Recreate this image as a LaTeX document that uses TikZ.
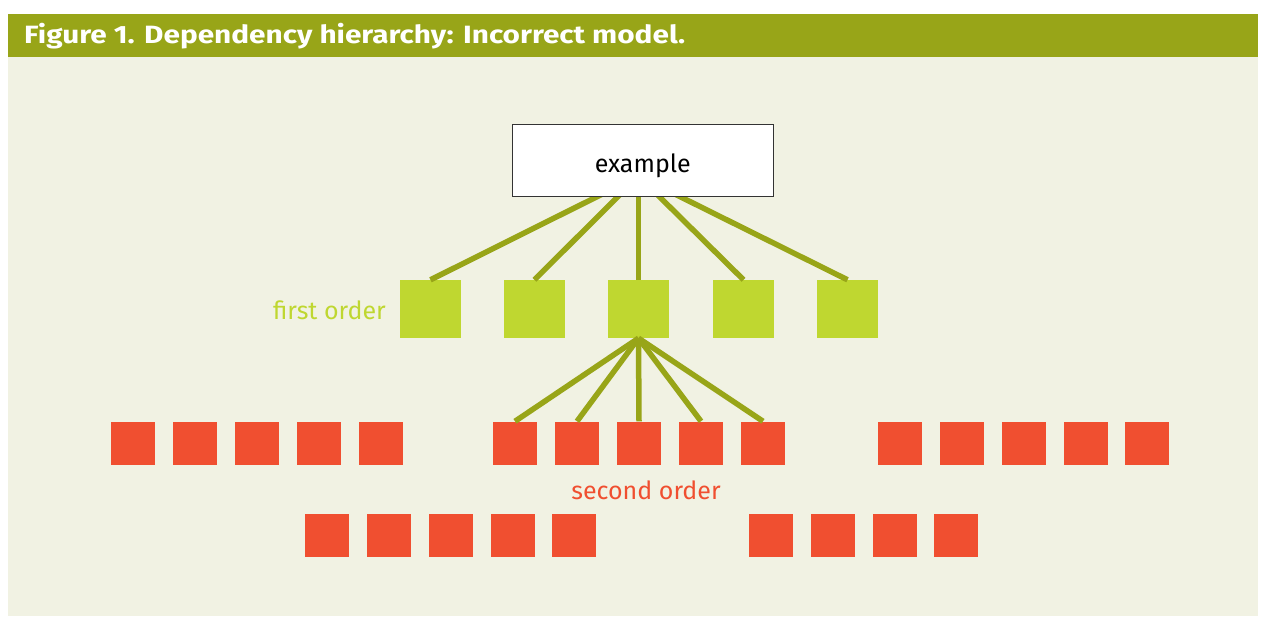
\documentclass[tikz,border=0pt]{standalone}
\usepackage{fontspec}
\setmainfont{Fira Sans}
\definecolor{olive}{HTML}{98A518}
\definecolor{lime}{HTML}{BFD730}
\definecolor{redsq}{HTML}{F04F30}
\definecolor{panel}{HTML}{F1F2E3}
\begin{document}
\begin{tikzpicture}[x=1pt,y=-1pt,
  greensq/.style={fill=lime,draw=none,minimum width=61pt,minimum height=58pt,inner sep=0pt},
  redbox/.style={fill=redsq,draw=none,minimum width=44pt,minimum height=43pt,inner sep=0pt},
  link/.style={draw=olive,line width=5.5pt},
  rootbox/.style={draw=black!80,line width=0.8pt,fill=white,minimum width=261pt,minimum height=72pt,inner sep=0pt,text height=25pt,text depth=0pt,font=\fontsize{25}{28}\selectfont},
  lbl/.style={font=\fontsize{25}{28}\selectfont,inner sep=0pt}]
\useasboundingbox (0,0) rectangle (1280,628);
\fill[white] (0,0) rectangle (1280,628);
\fill[panel] (8,57) rectangle (1258,616);
\fill[olive] (8,14) rectangle (1258,57);
\node[anchor=west,text=white,inner sep=0pt,xscale=1.19,transform shape,font=\fontsize{25}{28}\selectfont\bfseries] (title) at (24,36) {Figure 1. Dependency hierarchy: Incorrect model.};
% first order
\foreach \i/\x in {1/430.5,2/534.5,3/638.5,4/743.5,5/847.5}
  \node[greensq] (g\i) at (\x,309) {};
% second order row 1
\foreach \i/\x in {1/133,2/195,3/257,4/319,5/381,6/515,7/577,8/639,9/701,10/763,11/900,12/962,13/1024,14/1086,15/1147}
  \node[redbox] (r\i) at (\x,443) {};
% second order row 2
\foreach \i/\x in {1/327,2/389,3/451,4/513,5/574,6/771,7/833,8/895,9/956}
  \node[redbox] (s\i) at (\x,535.5) {};
\coordinate (hub) at (638.5,176);
\foreach \i in {1,...,5} \draw[link] (hub) -- (g\i.north);
\foreach \i in {6,...,10} \draw[link] (g3.south) -- (r\i.north);
\node[rootbox] (ex) at (642.75,160) {example};
\node[lbl,text=lime,anchor=east] (fo) at (386,310) {first order};
\node[lbl,text=redsq] (so) at (646,490) {second order};
\end{tikzpicture}
\end{document}
